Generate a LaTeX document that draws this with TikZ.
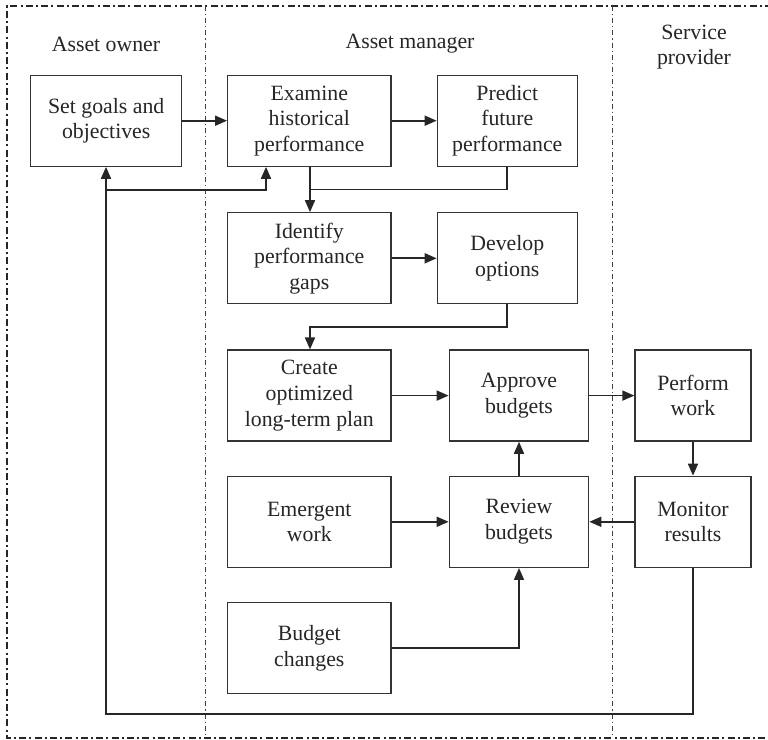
\documentclass[tikz,border=0pt]{standalone}
\usepackage{fontspec}
\setmainfont{Liberation Serif}
\usetikzlibrary{arrows.meta}
\begin{document}
\begin{tikzpicture}[x=0.5pt,y=-0.5pt,
  every node/.style={font=\fontsize{10.9}{12.8}\selectfont, text=black!85},
  box/.style={draw=black!80, line width=0.65pt, minimum height=45.5pt, inner sep=0pt, align=center, fill=white},
  wA/.style={minimum width=75.5pt},
  wB/.style={minimum width=81.6pt},
  wC/.style={minimum width=70pt},
  wD/.style={minimum width=69.7pt},
  wE/.style={minimum width=58pt},
  conn/.style={draw=black!85, line width=0.85pt},
  arr/.style={conn, -{Triangle[length=6pt,width=5pt]}},
  outer/.style={draw=black!85, line width=0.6pt, dash pattern=on 3.5pt off 1.6pt on 1pt off 1.6pt},
  lane/.style={draw=black!75, line width=0.35pt, dash pattern=on 2.5pt off 1.5pt on 0.6pt off 1.5pt},
  lanelabel/.style={align=center}
]
\useasboundingbox (0,0) rectangle (768,740);
% frame and lanes
\draw[outer] (772,6) -- (7,6) -- (7,738) -- (772,738);
\draw[lane] (205,6) -- (205,738);
\draw[lane] (612,6) -- (612,738);
% lane labels
\node[lanelabel] (lo) at (106,44) {Asset owner};
\node[lanelabel] (lm) at (410,44) {Asset manager};
\node[lanelabel] (ls) at (694,47) {Service\\provider};
% boxes
\node[box,wA] (goals) at (106.2,120.7) {Set goals and\\objectives};
\node[box,wB] (exam) at (309.3,120.7) {Examine\\historical\\performance};
\node[box,wC] (pred) at (507.3,120.7) {Predict\\future\\performance};
\node[box,wB] (ident) at (309.3,258.3) {Identify\\performance\\gaps};
\node[box,wC] (dev) at (507.3,258.3) {Develop\\options};
\node[box,wB] (create) at (309.3,395.6) {Create\\optimized\\long-term plan};
\node[box,wD] (appr) at (519,395.6) {Approve\\budgets};
\node[box,wE] (perf) at (693,395.6) {Perform\\work};
\node[box,wB] (emerg) at (309.3,521.8) {Emergent\\work};
\node[box,wD] (rev) at (519,521.8) {Review\\budgets};
\node[box,wE] (mon) at (693,521.8) {Monitor\\results};
\node[box,wB] (budg) at (309.3,648.2) {Budget\\changes};
% junction coordinates
\coordinate (j1) at (310,189.5);
\coordinate (j2) at (310,326.7);
\coordinate (j3) at (106,190);
\coordinate (j4) at (106,714);
\coordinate (j5) at (693,714);
% connectors
\draw[arr] (goals) -- (exam);
\draw[arr] (exam) -- (pred);
\draw[arr] (exam.south -| j1) -- (ident.north -| j1);
\draw[conn] (pred.south) |- (j1);
\draw[arr] (ident) -- (dev);
\draw[arr] (dev.south) |- (j2) -- (create.north -| j2);
\draw[arr] (create) -- (appr);
\draw[arr] (appr) -- (perf);
\draw[arr] (perf) -- (mon);
\draw[arr] (mon) -- (rev);
\draw[arr] (emerg) -- (rev);
\draw[arr] (rev) -- (appr);
\draw[arr] (budg.east) -| (rev.south);
\draw[conn] (mon.south) -- (j5) -- (j4) -- (j3);
\draw[arr] (j4) -- (j3) -- (goals.south -| j3);
\draw[arr] (j3) -| (exam.south -| 266,0);
\end{tikzpicture}
\end{document}
